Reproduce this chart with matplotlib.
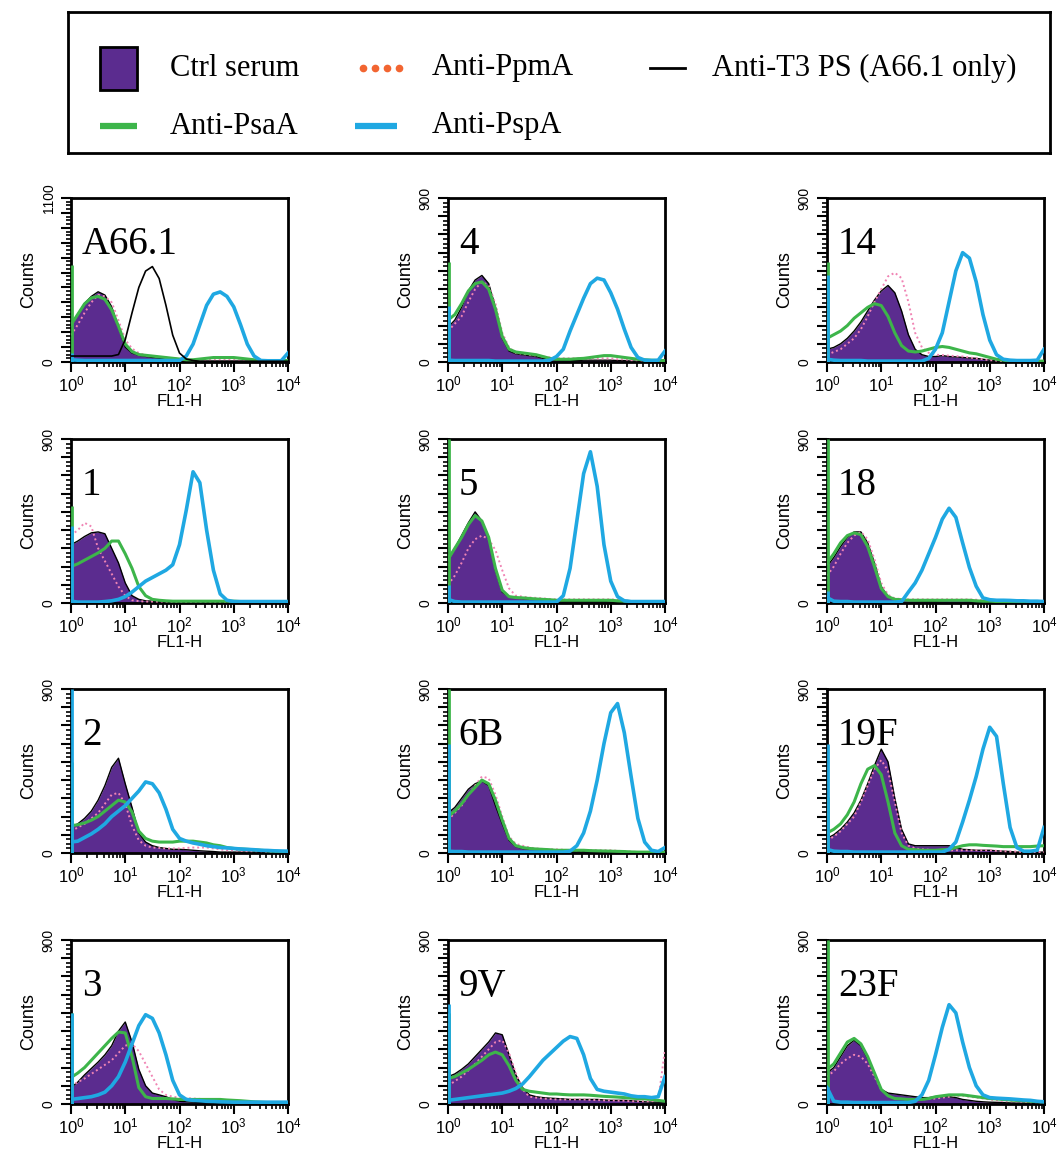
import numpy as np
import matplotlib
matplotlib.use('Agg')
import matplotlib.pyplot as plt
from matplotlib.patches import Rectangle
from matplotlib.ticker import MultipleLocator, FixedFormatter, LogLocator, NullFormatter

plt.rcParams['font.family'] = ['Liberation Sans', 'DejaVu Sans']
plt.rcParams['mathtext.default'] = 'regular'

# DATA ------------------------------------------------------------------------
# FL1-H channel grid (log10), 1 .. 10^4
LOG_FL1 = np.arange(0, 4.001, 0.125)
FL1 = 10 ** LOG_FL1

PANELS = ['A66.1', '1', '2', '3',      # column 1
          '4', '5', '6B', '9V',        # column 2
          '14', '18', '19F', '23F']    # column 3
YMAX = {'A66.1': 1100}

CTRL_SERUM = {
    'A66.1': [235, 320, 393, 440, 471, 449, 370, 235, 100, 60, 45, 38, 30, 25, 20, 15, 10, 8, 6, 5, 5, 5, 5, 5, 5, 5, 5, 5, 5, 5, 5, 5, 5],
    '4':     [190, 230, 300, 390, 450, 475, 430, 300, 130, 60, 45, 40, 35, 30, 20, 15, 10, 8, 8, 8, 10, 10, 10, 10, 10, 8, 8, 5, 5, 5, 5, 5, 5],
    '14':    [70, 80, 100, 130, 170, 220, 280, 340, 390, 420, 380, 280, 150, 70, 40, 30, 30, 35, 30, 28, 25, 22, 20, 15, 10, 8, 5, 5, 5, 5, 5, 5, 5],
    '1':     [320, 340, 365, 385, 390, 380, 300, 220, 110, 40, 20, 12, 10, 8, 6, 5, 5, 5, 5, 5, 5, 5, 5, 5, 5, 5, 5, 5, 5, 5, 5, 5, 5],
    '5':     [230, 300, 370, 440, 500, 450, 360, 180, 60, 35, 30, 25, 20, 18, 15, 12, 10, 8, 8, 8, 8, 8, 8, 8, 5, 5, 5, 5, 5, 5, 5, 5, 5],
    '18':    [200, 250, 310, 360, 390, 390, 330, 220, 90, 35, 20, 18, 15, 12, 10, 10, 10, 12, 15, 15, 15, 12, 10, 8, 8, 5, 5, 5, 5, 5, 5, 5, 5],
    '2':     [140, 160, 190, 230, 290, 370, 470, 520, 380, 250, 110, 60, 40, 30, 25, 20, 20, 18, 15, 12, 10, 8, 5, 5, 5, 5, 5, 5, 5, 5, 5, 5, 5],
    '6B':    [220, 250, 300, 350, 380, 395, 370, 260, 160, 70, 35, 25, 20, 18, 15, 12, 10, 10, 8, 8, 8, 8, 8, 8, 8, 5, 5, 5, 5, 5, 5, 5, 5],
    '19F':   [80, 100, 130, 170, 220, 290, 380, 480, 570, 500, 300, 130, 50, 40, 40, 40, 40, 40, 40, 30, 20, 18, 15, 15, 15, 12, 10, 8, 5, 5, 5, 5, 5],
    '3':     [90, 120, 160, 195, 230, 270, 320, 400, 450, 340, 190, 100, 60, 50, 40, 25, 15, 12, 10, 8, 8, 5, 5, 5, 5, 5, 5, 5, 5, 5, 5, 5, 5],
    '9V':    [150, 165, 190, 220, 260, 300, 340, 390, 380, 270, 160, 90, 50, 40, 35, 32, 30, 28, 25, 25, 25, 25, 25, 22, 20, 20, 20, 18, 15, 12, 10, 10, 10],
    '23F':   [170, 200, 260, 320, 350, 320, 250, 170, 80, 60, 55, 50, 45, 40, 35, 35, 40, 40, 40, 35, 25, 20, 15, 12, 10, 9, 8, 6, 5, 5, 5, 5, 5],
}

ANTI_PSAA = {
    'A66.1': [250, 320, 390, 430, 440, 420, 350, 240, 120, 70, 50, 45, 40, 35, 30, 25, 20, 15, 15, 20, 25, 30, 30, 30, 30, 25, 20, 15, 10, 10, 10, 10, 10],
    '4':     [230, 260, 320, 390, 430, 440, 400, 290, 140, 70, 55, 50, 45, 40, 30, 20, 15, 15, 15, 18, 20, 25, 30, 35, 35, 30, 25, 20, 15, 12, 10, 8, 8],
    '14':    [130, 150, 170, 200, 240, 270, 300, 320, 310, 250, 160, 90, 60, 55, 60, 70, 80, 85, 80, 70, 60, 50, 45, 35, 25, 15, 10, 5, 5, 5, 5, 5, 5],
    '1':     [200, 215, 235, 255, 275, 300, 340, 340, 270, 190, 90, 40, 20, 15, 12, 10, 10, 10, 10, 10, 10, 10, 10, 10, 10, 8, 5, 5, 5, 5, 5, 5, 5],
    '5':     [240, 300, 360, 430, 480, 450, 360, 190, 70, 35, 30, 28, 25, 22, 20, 18, 15, 15, 15, 15, 15, 15, 15, 15, 15, 12, 10, 8, 5, 5, 5, 5, 5],
    '18':    [220, 270, 330, 370, 385, 375, 310, 200, 80, 35, 20, 18, 15, 15, 15, 15, 15, 15, 15, 15, 15, 15, 12, 10, 10, 8, 8, 5, 5, 5, 5, 5, 5],
    '2':     [150, 155, 165, 180, 200, 230, 260, 290, 280, 225, 120, 80, 65, 60, 60, 60, 65, 65, 65, 60, 55, 45, 40, 30, 25, 22, 20, 18, 15, 12, 10, 8, 8],
    '6B':    [200, 230, 270, 320, 360, 400, 380, 290, 180, 80, 40, 30, 25, 22, 20, 18, 15, 15, 15, 15, 15, 13, 12, 11, 10, 9, 8, 6, 5, 5, 5, 5, 5],
    '19F':   [110, 130, 160, 210, 280, 380, 460, 480, 430, 280, 110, 40, 20, 18, 15, 15, 15, 18, 20, 30, 40, 45, 45, 42, 40, 38, 35, 35, 35, 35, 35, 38, 40],
    '3':     [145, 170, 200, 240, 280, 320, 360, 395, 390, 260, 90, 40, 30, 30, 30, 28, 25, 25, 25, 25, 25, 25, 25, 22, 20, 18, 15, 12, 10, 8, 8, 8, 8],
    '9V':    [140, 150, 170, 190, 215, 240, 270, 285, 270, 210, 130, 80, 70, 65, 60, 55, 55, 52, 50, 50, 50, 48, 45, 42, 40, 38, 35, 32, 30, 28, 25, 20, 15],
    '23F':   [190, 220, 280, 340, 360, 330, 260, 170, 80, 45, 30, 28, 25, 25, 25, 30, 40, 45, 50, 50, 50, 45, 40, 35, 30, 28, 25, 22, 20, 18, 15, 13, 12],
}

ANTI_PPMA = {
    'A66.1': [180, 250, 330, 400, 450, 440, 400, 280, 150, 90, 60, 45, 40, 35, 30, 25, 20, 15, 15, 15, 15, 15, 15, 15, 15, 10, 10, 10, 8, 8, 8, 8, 8],
    '4':     [170, 210, 250, 330, 400, 440, 420, 320, 160, 80, 50, 45, 40, 35, 30, 25, 20, 20, 20, 20, 20, 20, 20, 20, 20, 15, 15, 10, 10, 8, 8, 8, 8],
    '14':    [40, 55, 70, 100, 130, 180, 250, 330, 400, 470, 490, 460, 330, 160, 80, 50, 40, 38, 35, 32, 30, 25, 20, 15, 10, 8, 5, 5, 5, 5, 5, 5, 5],
    '1':     [370, 400, 440, 420, 300, 230, 160, 90, 40, 15, 10, 8, 8, 8, 8, 8, 8, 8, 8, 8, 8, 8, 8, 8, 8, 5, 5, 5, 5, 5, 5, 5, 5],
    '5':     [100, 150, 220, 300, 350, 370, 350, 290, 180, 80, 40, 35, 30, 28, 25, 22, 20, 20, 20, 20, 20, 20, 20, 20, 20, 18, 15, 10, 5, 5, 5, 5, 5],
    '18':    [150, 200, 270, 330, 370, 390, 350, 240, 110, 45, 25, 22, 20, 20, 20, 20, 20, 20, 20, 20, 20, 20, 18, 15, 15, 12, 10, 8, 8, 5, 5, 5, 5],
    '2':     [120, 140, 160, 190, 220, 270, 320, 330, 270, 150, 70, 40, 30, 28, 25, 25, 25, 28, 30, 30, 30, 25, 20, 15, 15, 12, 10, 10, 10, 8, 8, 8, 8],
    '6B':    [180, 220, 260, 320, 370, 420, 410, 320, 200, 90, 50, 40, 30, 25, 22, 20, 20, 18, 15, 15, 15, 15, 15, 15, 15, 12, 10, 8, 5, 5, 5, 5, 5],
    '19F':   [70, 90, 120, 160, 200, 280, 370, 460, 510, 450, 280, 110, 40, 25, 20, 18, 15, 15, 15, 15, 15, 15, 15, 15, 15, 12, 10, 8, 8, 5, 5, 5, 5],
    '3':     [100, 120, 140, 165, 190, 215, 240, 280, 320, 330, 290, 220, 150, 80, 50, 40, 35, 32, 30, 28, 25, 22, 20, 18, 15, 12, 10, 10, 10, 8, 8, 8, 8],
    '9V':    [100, 125, 150, 185, 220, 260, 300, 340, 350, 280, 170, 80, 40, 35, 30, 28, 25, 25, 25, 25, 25, 22, 22, 20, 20, 18, 18, 15, 15, 15, 15, 20, 300],
    '23F':   [150, 180, 220, 250, 270, 260, 220, 150, 80, 45, 30, 28, 25, 25, 25, 28, 30, 35, 40, 45, 45, 40, 35, 30, 25, 20, 15, 15, 15, 12, 10, 10, 10],
}

ANTI_PSPA = {
    'A66.1': [15, 12, 10, 10, 10, 10, 10, 10, 10, 10, 10, 10, 10, 10, 10, 10, 10, 40, 120, 250, 380, 455, 470, 440, 370, 250, 120, 40, 10, 8, 8, 8, 60],
    '4':     [10, 8, 8, 8, 8, 8, 8, 5, 5, 5, 5, 5, 5, 5, 5, 10, 30, 70, 170, 260, 350, 430, 460, 450, 380, 290, 180, 80, 25, 10, 8, 10, 60],
    '14':    [15, 10, 8, 8, 8, 8, 5, 5, 5, 5, 5, 5, 5, 3, 5, 20, 70, 160, 330, 500, 600, 570, 440, 260, 120, 40, 15, 10, 8, 8, 8, 10, 70],
    '1':     [10, 5, 5, 5, 5, 8, 12, 20, 35, 60, 90, 120, 140, 160, 180, 210, 320, 510, 720, 660, 400, 180, 50, 15, 8, 8, 8, 8, 8, 8, 8, 8, 8],
    '5':     [20, 8, 5, 5, 5, 5, 5, 5, 5, 5, 5, 5, 5, 5, 5, 5, 5, 40, 190, 450, 710, 830, 640, 320, 120, 35, 12, 8, 8, 8, 8, 8, 8],
    '18':    [30, 10, 8, 8, 5, 5, 5, 5, 5, 5, 5, 8, 60, 110, 180, 270, 360, 460, 520, 470, 330, 195, 92, 28, 18, 15, 15, 14, 12, 12, 10, 10, 8],
    '2':     [60, 65, 85, 105, 130, 160, 200, 230, 260, 300, 340, 390, 380, 330, 240, 130, 80, 65, 55, 48, 40, 35, 30, 28, 25, 22, 20, 18, 15, 14, 12, 11, 10],
    '6B':    [10, 8, 8, 5, 5, 5, 5, 5, 5, 5, 5, 5, 5, 5, 5, 5, 5, 5, 10, 40, 110, 230, 400, 600, 770, 820, 660, 420, 190, 60, 15, 8, 30],
    '19F':   [20, 10, 8, 8, 5, 5, 5, 5, 5, 5, 5, 5, 5, 5, 5, 5, 5, 5, 20, 60, 170, 290, 420, 570, 690, 640, 380, 140, 30, 10, 10, 15, 140],
    '3':     [25, 30, 35, 40, 50, 65, 100, 150, 230, 330, 430, 490, 470, 390, 270, 130, 50, 25, 20, 18, 15, 14, 12, 11, 10, 10, 10, 10, 10, 10, 10, 10, 10],
    '9V':    [20, 25, 30, 35, 40, 45, 50, 55, 60, 70, 85, 110, 150, 195, 240, 275, 310, 345, 370, 360, 270, 140, 80, 70, 65, 60, 55, 45, 40, 40, 35, 40, 150],
    '23F':   [90, 15, 10, 10, 8, 8, 8, 8, 8, 8, 8, 8, 8, 15, 50, 130, 270, 420, 545, 500, 340, 200, 100, 50, 35, 32, 30, 28, 25, 22, 20, 15, 12],
}

# Anti-T3 PS, A66.1 only
ANTI_T3 = {
    'A66.1': [40, 40, 40, 40, 40, 40, 40, 50, 150, 330, 500, 610, 640, 560, 380, 180, 60, 20, 10, 5, 5, 5, 5, 5, 5, 5, 5, 5, 5, 5, 5, 5, 5],
}

# off-scale-low first channel (drawn along the left axis)
SPIKE_PSAA = {'A66.1': 650, '4': 550, '14': 550, '1': 535, '5': 900, '18': 900,
              '2': 500, '6B': 900, '19F': 310, '3': 500, '9V': 500, '23F': 900}
SPIKE_PSPA = {'A66.1': 60, '4': 310, '14': 480, '1': 425, '5': 100, '18': 65,
              '2': 900, '6B': 600, '19F': 600, '3': 500, '9V': 550, '23F': 95}

# STYLE -----------------------------------------------------------------------
PURPLE = '#5b2c8f'
GREEN = '#3db54a'
BLUE = '#1fa8e2'
PINK = '#f084b4'
ORANGE = '#f26531'
SERIF = 'Liberation Serif'

W, H = 1057, 1159
COL_LEFT = [71, 448, 827]
ROW_TOP = [198, 439, 689, 940]
AX_W, AX_H = 217, 164

fig = plt.figure(figsize=(W / 100, H / 100), dpi=100)

# legend box
lax = fig.add_axes([68 / W, 1 - 153 / H, 982 / W, 141 / H])
lax.set_xlim(0, 982)
lax.set_ylim(141, 0)
lax.set_xticks([])
lax.set_yticks([])
for s in lax.spines.values():
    s.set_linewidth(2)
r1, r2 = 56, 114
lax.add_patch(Rectangle((32, 35), 37, 43, facecolor=PURPLE, edgecolor='black', lw=2))
lax.text(102, r1, 'Ctrl serum', family=SERIF, fontsize=22, va='center')
lax.plot([295, 307, 319, 331], [r1] * 4, 'o', color=ORANGE, ms=4.5)
lax.text(364, r1, 'Anti-PpmA', family=SERIF, fontsize=22, va='center')
lax.plot([582, 617], [r1, r1], color='black', lw=2)
lax.text(644, r1, 'Anti-T3 PS (A66.1 only)', family=SERIF, fontsize=22, va='center')
lax.plot([32, 69], [r2, r2], color=GREEN, lw=4.5, solid_capstyle='butt')
lax.text(102, r2, 'Anti-PsaA', family=SERIF, fontsize=22, va='center')
lax.plot([287, 329], [r2, r2], color=BLUE, lw=4.5, solid_capstyle='butt')
lax.text(364, r2, 'Anti-PspA', family=SERIF, fontsize=22, va='center')

for i, name in enumerate(PANELS):
    col, row = i // 4, i % 4
    ymax = YMAX.get(name, 900)
    ax = fig.add_axes([COL_LEFT[col] / W, 1 - (ROW_TOP[row] + AX_H) / H, AX_W / W, AX_H / H])
    ax.set_xscale('log')
    ax.set_xlim(1, 1e4)
    ax.set_ylim(0, ymax)

    ax.fill_between(FL1, CTRL_SERUM[name], color=PURPLE, lw=0, zorder=1)
    ax.plot(FL1, CTRL_SERUM[name], color='black', lw=1, zorder=2)
    ax.plot(FL1, ANTI_PPMA[name], color=PINK, lw=1.4, ls=(0, (1, 1.5)), zorder=3)
    ax.plot(FL1, ANTI_PSAA[name], color=GREEN, lw=2.2, zorder=4)
    ax.plot(FL1, ANTI_PSPA[name], color=BLUE, lw=2.6, zorder=5)
    if name in ANTI_T3:
        ax.plot(FL1, ANTI_T3[name], color='black', lw=1.2, zorder=6)
    ax.vlines(1.045, 0, SPIKE_PSAA[name], color=GREEN, lw=2, zorder=4)
    ax.vlines(1.045, 0, SPIKE_PSPA[name], color=BLUE, lw=2, zorder=5)

    ax.text(0.05, 0.83, name, transform=ax.transAxes, family=SERIF, fontsize=28, va='top')

    for s in ax.spines.values():
        s.set_linewidth(2)
    # y: labelled ends, long ticks every 100, short ticks every 25
    ax.yaxis.set_major_locator(MultipleLocator(100))
    ylabels = [str(v) if v in (0, ymax) else '' for v in range(0, ymax + 1, 100)]
    ax.set_yticks(range(0, ymax + 1, 100))
    ax.set_yticklabels(ylabels, rotation=90, va='center')
    ax.yaxis.set_minor_locator(MultipleLocator(25))
    ax.xaxis.set_major_locator(LogLocator(base=10, numticks=10))
    ax.xaxis.set_minor_locator(LogLocator(base=10, subs=np.arange(2, 10), numticks=20))
    ax.xaxis.set_minor_formatter(NullFormatter())
    ax.tick_params(which='major', direction='out', length=7, width=1.5, labelsize=12, pad=2)
    ax.tick_params(which='minor', direction='out', length=3.5, width=1.2)
    ax.tick_params(axis='y', which='major', labelsize=10, pad=4)
    ax.set_ylabel('Counts', fontsize=13, labelpad=3)
    ax.set_xlabel('FL1-H', fontsize=12, labelpad=0)

fig.savefig('out.png', dpi=100)
